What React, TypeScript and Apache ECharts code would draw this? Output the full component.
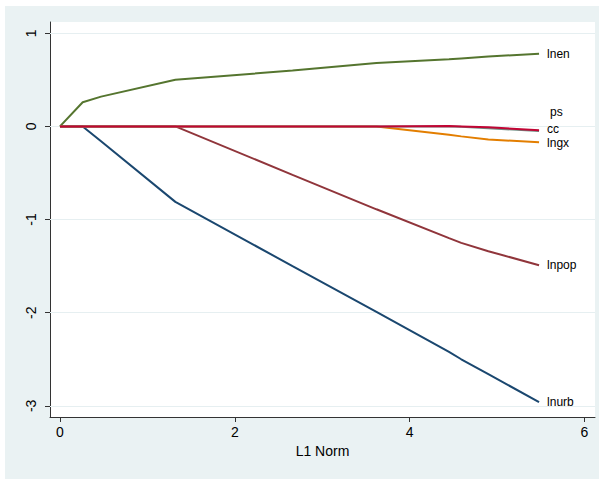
import React, { useEffect, useRef } from "react";
import * as echarts from "echarts";

// L1 norm breakpoints of the lasso path
const l1Norm = [0, 0.26, 0.47, 1.32, 2.66, 3.62, 4.45, 4.59, 4.9, 5.48];

const lnurb = [0, 0, -0.16, -0.81, -1.5, -1.99, -2.42, -2.5, -2.66, -2.96];
const lnpop = [0, 0, 0, 0, -0.52, -0.89, -1.2, -1.25, -1.34, -1.49];
const lnen = [0, 0.26, 0.32, 0.5, 0.6, 0.68, 0.72, 0.73, 0.75, 0.78];
const lngx = [0, 0, 0, 0, 0, 0, -0.09, -0.107, -0.14, -0.17];
const ps = [0, 0, 0, 0, 0, 0, 0, -0.005, -0.02, -0.05];
const cc = [0, 0, 0, 0, 0, 0, 0.004, 0, -0.01, -0.04];

const seriesNames = ["lnurb", "lnpop", "lnen", "lngx", "ps", "cc"];
const seriesValues = [lnurb, lnpop, lnen, lngx, ps, cc];
const seriesColors = ["#1a476f", "#90353b", "#55752f", "#e37e00", "#6e8e84", "#c10534"];
const labelOffsets: number[][] = [[0, 0], [0, 0], [0, 0], [0, 1], [3, -19], [0, -1.5]];

const xTicks = [0, 2, 4, 6];
const yTicks = [-3, -2, -1, 0, 1];

const FONT = "'Liberation Sans', Arial, sans-serif";

export default function App() {
  const ref = useRef<HTMLDivElement>(null);
  useEffect(() => {
    if (!ref.current) return;
    const chart = echarts.init(ref.current, null, { renderer: "svg" });
    const series: any[] = seriesNames.map((name, i) => ({
      name,
      type: "line",
      data: l1Norm.map((x, j) => [x, seriesValues[i][j]]),
      showSymbol: false,
      symbol: "none",
      lineStyle: { color: seriesColors[i], width: 2 },
      itemStyle: { color: seriesColors[i] },
      z: 10 + i,
      endLabel: {
        show: true,
        formatter: "{a}",
        distance: 8,
        offset: labelOffsets[i],
        color: "#000",
        fontSize: 12,
        lineHeight: 12,
        fontFamily: FONT,
      },
    }));
    // horizontal grid lines at the y tick values
    series.push({
      type: "line",
      data: [],
      silent: true,
      z: 1,
      markLine: {
        silent: true,
        symbol: "none",
        label: { show: false },
        lineStyle: { color: "#e6eff1", width: 1.2, type: "solid" },
        data: yTicks.map((v) => ({ yAxis: v })),
      },
    });
    chart.setOption({
      animation: false,
      backgroundColor: "#ffffff",
      graphic: [
        {
          type: "rect",
          z: -100,
          silent: true,
          shape: { x: 5, y: 6, width: 594, height: 473 },
          style: { fill: "#eaf2f3" },
        },
      ],
      grid: {
        left: 50,
        top: 22,
        right: 7,
        bottom: 62,
        show: true,
        backgroundColor: "#ffffff",
        borderWidth: 0,
        z: 0,
      },
      xAxis: {
        type: "value",
        min: -0.114,
        max: 6.12,
        name: "L1 Norm",
        nameLocation: "middle",
        nameGap: 24,
        nameTextStyle: { color: "#000", fontSize: 14, fontFamily: FONT },
        axisLine: { show: true, onZero: false, lineStyle: { color: "#333", width: 1 } },
        axisTick: { show: true, length: 5, customValues: xTicks, lineStyle: { color: "#333" } },
        axisLabel: { customValues: xTicks, color: "#000", fontSize: 14, fontFamily: FONT, margin: 8 },
        splitLine: { show: false },
      },
      yAxis: {
        type: "value",
        min: -3.12,
        max: 1.121,
        axisLine: { show: true, onZero: false, lineStyle: { color: "#333", width: 1 } },
        axisTick: { show: true, length: 5, customValues: yTicks, lineStyle: { color: "#333" } },
        axisLabel: {
          customValues: yTicks,
          rotate: 90,
          color: "#000",
          fontSize: 14,
          fontFamily: FONT,
          margin: 12,
        },
        splitLine: { show: false },
      },
      series,
    });
    return () => chart.dispose();
  }, []);
  return (
    <div style={{ position: "fixed", left: 0, top: 0, width: 602, height: 479, background: "#fff" }}>
      <div ref={ref} style={{ width: 602, height: 479 }} />
    </div>
  );
}
